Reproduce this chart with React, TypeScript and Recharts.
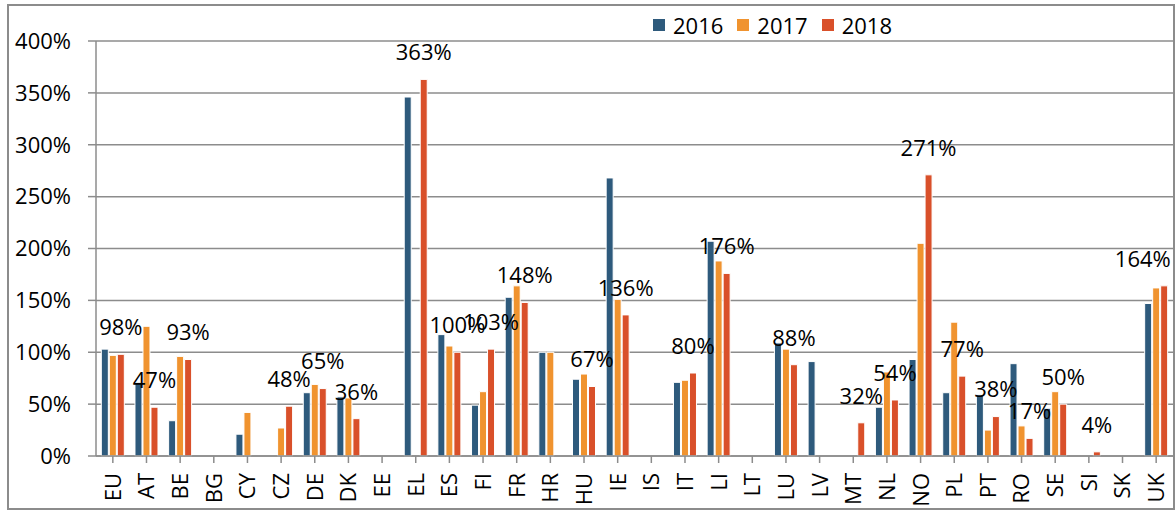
import React from 'react';
import { BarChart, Bar, XAxis, YAxis, CartesianGrid, Legend, LabelList } from 'recharts';

const categories = ['EU','AT','BE','BG','CY','CZ','DE','DK','EE','EL','ES','FI','FR','HR','HU','IE','IS','IT','LI','LT','LU','LV','MT','NL','NO','PL','PT','RO','SE','SI','SK','UK'];
const values2016: (number | null)[] = [103,71,34,null,21,null,61,57,null,346,117,49,153,100,74,268,null,71,207,null,109,91,null,47,93,61,59,89,46,null,null,147];
const values2017: (number | null)[] = [97,125,96,null,42,27,69,56,null,null,106,62,164,100,79,151,null,73,188,null,103,null,null,81,205,129,25,29,62,null,null,162];
const values2018: (number | null)[] = [98,47,93,null,null,48,65,36,null,363,100,103,148,null,67,136,null,80,176,null,88,null,32,54,271,77,38,17,50,4,null,164];
const yTicks = [0,50,100,150,200,250,300,350,400];
const seriesNames = ['2016','2017','2018'];
const colors = ['#2E5A7C','#F0932F','#D9502A'];

const data = categories.map((c, i) => ({
  name: c,
  y2016: values2016[i],
  y2017: values2017[i],
  y2018: values2018[i],
}));

const FONT = '"Open Sans", sans-serif';
const GRID = '#8C8C8C';
const CHART_W = 1176;
const LABEL_FS = 22;

const XTick = (props: any) => {
  const { x, y, payload } = props;
  return (
    <g transform={`translate(${x},${y})`}>
      <text transform="rotate(-90)" x={-8} y={0} dy="0.36em" textAnchor="end" fontFamily={FONT} fontSize={22} fill="#000">
        {payload.value}
      </text>
    </g>
  );
};

const TopLabel = (props: any) => {
  const { x, y, width, value } = props;
  if (value === null || value === undefined) return null;
  const txt = `${value}%`;
  const half = (txt.length - 1) * 0.572 * LABEL_FS / 2 + 0.846 * LABEL_FS / 2;
  const cx = Math.min(x + width / 2, CHART_W - 5 - half);
  return (
    <text x={cx} y={y - 27} dy="0.36em" textAnchor="middle" fontFamily={FONT} fontSize={LABEL_FS} fill="#000">
      {txt}
    </text>
  );
};

const LegendContent = () => (
  <div style={{ display: 'flex', alignItems: 'center', fontFamily: FONT, fontSize: 22, color: '#000', whiteSpace: 'nowrap' }}>
    {seriesNames.map((n, i) => (
      <div key={n} style={{ display: 'flex', alignItems: 'center', marginRight: 14 }}>
        <span style={{ display: 'inline-block', width: 12, height: 12, background: colors[i], marginRight: 8 }} />
        <span>{n}</span>
      </div>
    ))}
  </div>
);

export default function App() {
  return (
    <div style={{ position: 'absolute', left: 0, top: 0, width: 1176, height: 512, background: '#fff' }}>
      <div style={{ position: 'absolute', left: 7, top: 4, width: 1168, height: 506, border: '2px solid #8C8C8C', boxSizing: 'border-box' }} />
      <div style={{ position: 'absolute', left: 0, top: 0 }}>
        <BarChart
          width={CHART_W}
          height={512}
          data={data}
          margin={{ top: 41, right: 3, bottom: 0, left: 0 }}
          barCategoryGap="15.8%"
          barGap={1}
        >
          <CartesianGrid vertical={false} stroke={GRID} strokeWidth={1.5} />
          <XAxis
            dataKey="name"
            interval={0}
            height={56}
            tick={<XTick />}
            tickSize={7}
            axisLine={{ stroke: GRID, strokeWidth: 1.5 }}
            tickLine={{ stroke: GRID, strokeWidth: 1.5 }}
          />
          <YAxis
            width={96}
            domain={[0, 400]}
            ticks={yTicks}
            tickFormatter={(v: number) => `${v}%`}
            tickSize={8}
            tickMargin={17}
            tick={{ fontFamily: FONT, fontSize: 22, fill: '#000' }}
            axisLine={{ stroke: GRID, strokeWidth: 1.5 }}
            tickLine={{ stroke: GRID, strokeWidth: 1.5 }}
          />
          <Legend
            verticalAlign="middle"
            align="center"
            layout="horizontal"
            content={<LegendContent />}
            wrapperStyle={{ top: 10, left: 653, width: 300 }}
          />
          <Bar dataKey="y2016" name={seriesNames[0]} fill={colors[0]} stroke="#fff" strokeWidth={1} isAnimationActive={false} />
          <Bar dataKey="y2017" name={seriesNames[1]} fill={colors[1]} stroke="#fff" strokeWidth={1} isAnimationActive={false} />
          <Bar dataKey="y2018" name={seriesNames[2]} fill={colors[2]} stroke="#fff" strokeWidth={1} isAnimationActive={false}>
            <LabelList dataKey="y2018" content={<TopLabel />} />
          </Bar>
        </BarChart>
      </div>
    </div>
  );
}
